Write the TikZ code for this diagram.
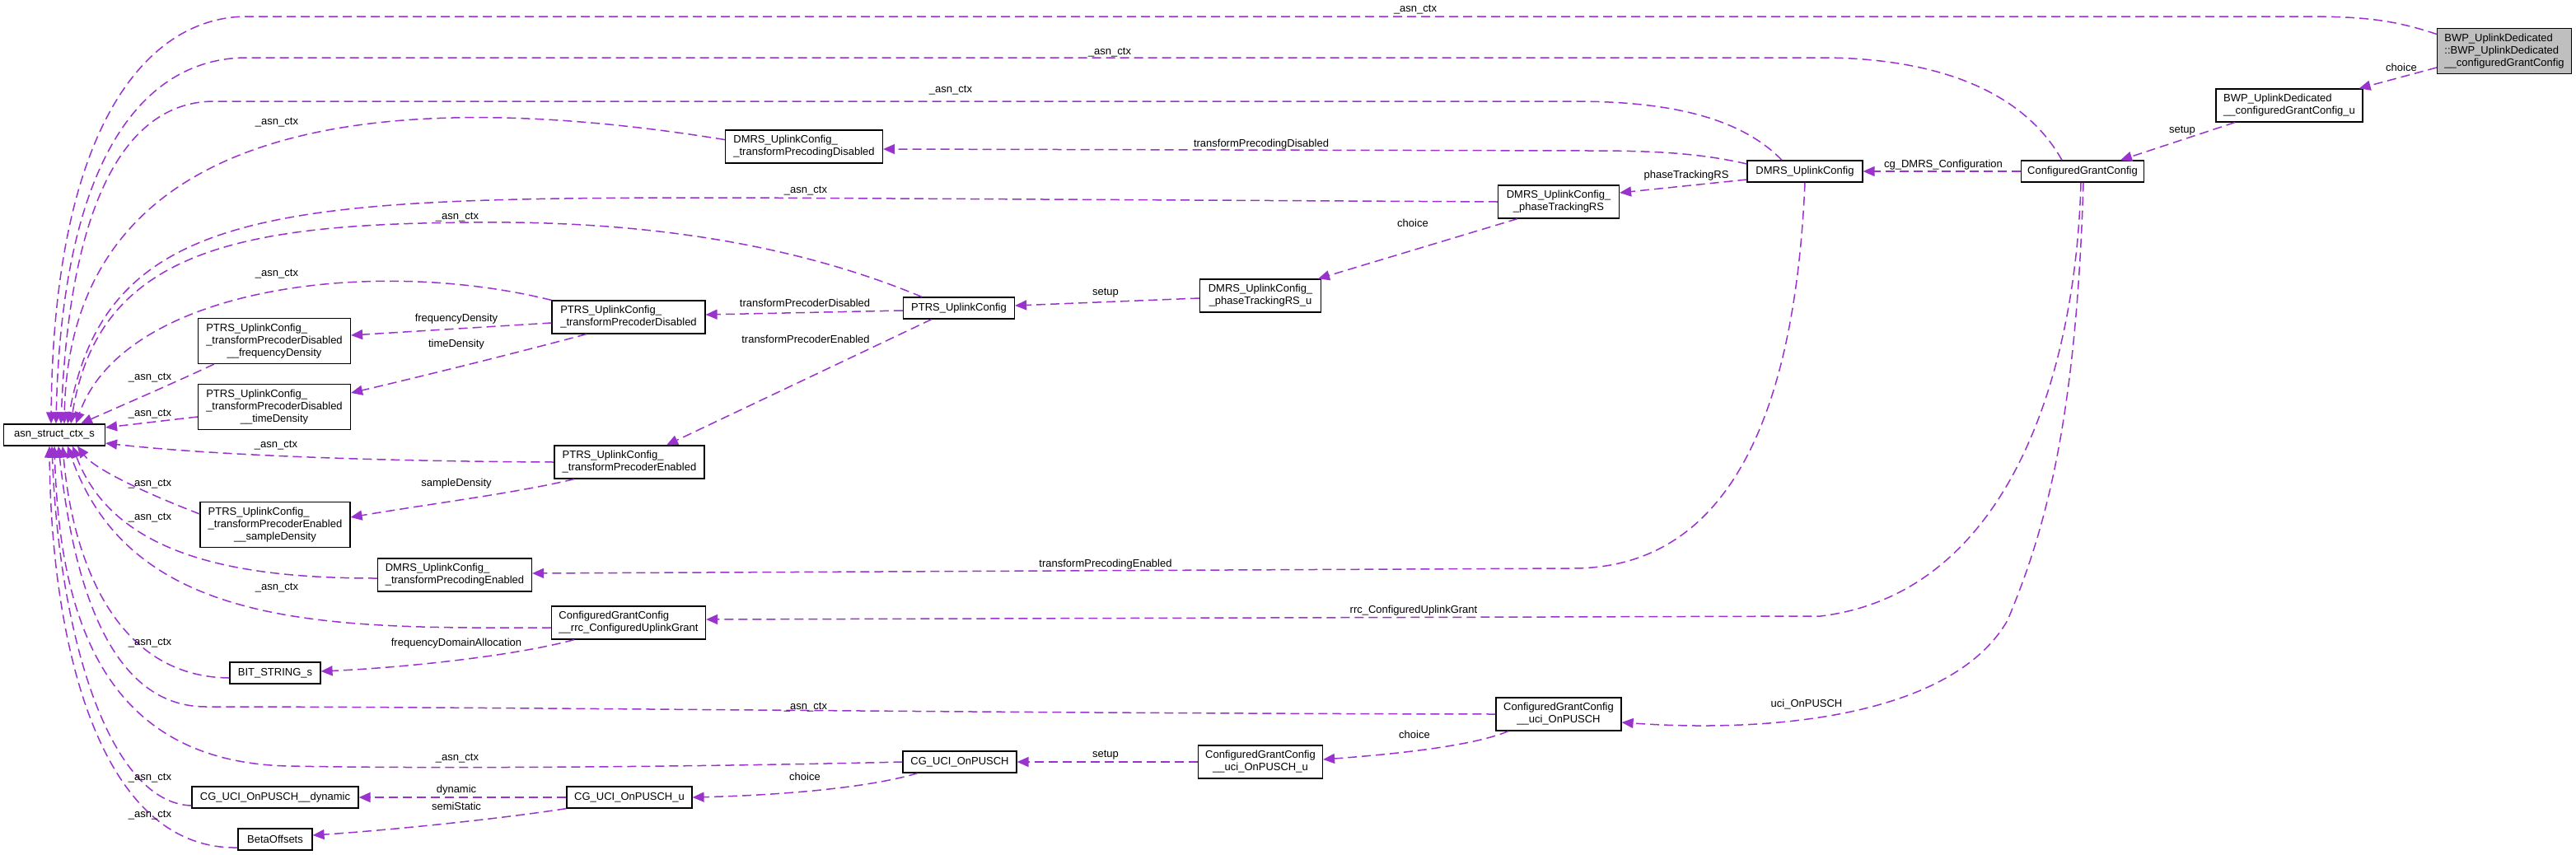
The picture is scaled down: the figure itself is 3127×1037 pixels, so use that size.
\documentclass[tikz,border=0pt]{standalone}
\usepackage{fontspec}
\setmainfont{Liberation Sans}
\usepackage{xcolor}
\usetikzlibrary{arrows.meta}
\definecolor{doxpurple}{RGB}{154,50,205}
\definecolor{doxgray}{RGB}{191,191,191}
% first lines left, last line centred
\newcommand{\boxtext}[2]{\begin{tabular}{@{}l@{}}#1\\\multicolumn{1}{@{}c@{}}{#2}\end{tabular}}

\begin{document}
\begin{tikzpicture}[x=1pt, y=-1pt,
    cls/.style={draw, line width=1.2pt, fill=white, inner xsep=7pt, inner ysep=5pt, minimum height=26pt, font=\fontsize{13}{15}\selectfont},
    lbl/.style={inner sep=0pt, font=\fontsize{13}{15}\selectfont},
    use/.style={draw=doxpurple, line width=1.5pt, dash pattern=on 11pt off 6pt, -{Triangle[length=14pt,width=12pt]}}]
  \useasboundingbox (0,0) rectangle (3127,1037);
  \fill[white] (0,0) rectangle (3127,1037);

  % classes
  \node[cls, fill=doxgray, minimum width=163pt] (bwpCG) at (3040,62) {\boxtext{BWP\_UplinkDedicated\\::BWP\_UplinkDedicated}{\_\_configuredGrantConfig}};
  \node[cls, minimum width=178pt] (bwpCGu) at (2779,128) {\boxtext{BWP\_UplinkDedicated}{\_\_configuredGrantConfig\_u}};
  \node[cls, minimum width=149pt] (cgc) at (2528,208) {ConfiguredGrantConfig};
  \node[cls, minimum width=140pt] (dmrs) at (2191,208) {DMRS\_UplinkConfig};
  \node[cls, minimum width=147pt] (dmrsPT) at (1892,245) {\boxtext{DMRS\_UplinkConfig\_}{\_phaseTrackingRS}};
  \node[cls, minimum width=147pt] (dmrsPTu) at (1530,359) {\boxtext{DMRS\_UplinkConfig\_}{\_phaseTrackingRS\_u}};
  \node[cls, minimum width=191pt] (dmrsTPD) at (976,178) {\boxtext{DMRS\_UplinkConfig\_}{\_transformPrecodingDisabled}};
  \node[cls, minimum width=135pt] (ptrs) at (1164,374) {PTRS\_UplinkConfig};
  \node[cls, minimum width=186pt] (ptrsTPD) at (763,385) {\boxtext{PTRS\_UplinkConfig\_}{\_transformPrecoderDisabled}};
  \node[cls, minimum width=185pt] (ptrsFreq) at (333,414) {\boxtext{PTRS\_UplinkConfig\_\\\_transformPrecoderDisabled}{\_\_frequencyDensity}};
  \node[cls, minimum width=185pt] (ptrsTime) at (333,494) {\boxtext{PTRS\_UplinkConfig\_\\\_transformPrecoderDisabled}{\_\_timeDensity}};
  \node[cls, minimum width=123pt] (asn) at (66,528) {asn\_struct\_ctx\_s};
  \node[cls, minimum width=182pt] (ptrsTPE) at (764,561) {\boxtext{PTRS\_UplinkConfig\_}{\_transformPrecoderEnabled}};
  \node[cls, minimum width=182pt] (ptrsSample) at (334,637) {\boxtext{PTRS\_UplinkConfig\_\\\_transformPrecoderEnabled}{\_\_sampleDensity}};
  \node[cls, minimum width=187pt] (dmrsTPE) at (552,698) {\boxtext{DMRS\_UplinkConfig\_}{\_transformPrecodingEnabled}};
  \node[cls, minimum width=187pt] (rrcGrant) at (763,756) {\boxtext{ConfiguredGrantConfig}{\_\_rrc\_ConfiguredUplinkGrant}};
  \node[cls, minimum width=110pt] (bitStr) at (334,817) {BIT\_STRING\_s};
  \node[cls, minimum width=152pt] (uci) at (1892,867) {\boxtext{ConfiguredGrantConfig}{\_\_uci\_OnPUSCH}};
  \node[cls, minimum width=151pt] (uciU) at (1530,925) {\boxtext{ConfiguredGrantConfig}{\_\_uci\_OnPUSCH\_u}};
  \node[cls, minimum width=138pt] (cgUci) at (1165,925) {CG\_UCI\_OnPUSCH};
  \node[cls, minimum width=152pt] (cgUciU) at (764,968) {CG\_UCI\_OnPUSCH\_u};
  \node[cls, minimum width=202pt] (cgDyn) at (334,968) {CG\_UCI\_OnPUSCH\_\_dynamic};
  \node[cls, minimum width=90pt] (beta) at (334,1019) {BetaOffsets};

  % _asn_ctx links, coming in from above
  \draw[use] (bwpCG.166) .. controls (2900,22) and (2860,20) .. (2790,20) -- (300,20) .. controls (180,20) and (65,150) .. ([xshift=-4pt]asn.north);
  \draw[use] ([xshift=-25pt]cgc.north) .. controls (2450,100) and (2330,70) .. (2210,70) -- (300,70) .. controls (175,70) and (75,190) .. ([xshift=2pt]asn.north);
  \draw[use] ([xshift=-28pt]dmrs.north) .. controls (2110,140) and (2020,123) .. (1909,123) -- (260,123) .. controls (160,123) and (85,230) .. ([xshift=8pt]asn.north);
  \draw[use] (dmrsTPD.175) .. controls (450,100) and (85,150) .. ([xshift=12pt]asn.north);
  \draw[use] (dmrsPT.west) -- (900,240) .. controls (350,240) and (130,245) .. ([xshift=16pt]asn.north);
  \draw[use] ([xshift=-45pt]ptrs.north) .. controls (950,290) and (760,268) .. (574,270) .. controls (300,272) and (120,300) .. ([xshift=20pt]asn.north);
  \draw[use] (ptrsTPD.north west) .. controls (450,310) and (150,350) .. ([xshift=26pt]asn.north);
  \draw[use] ([xshift=20pt]ptrsFreq.south west) .. controls (200,470) and (130,500) .. ([xshift=32pt]asn.north);
  \draw[use] ([yshift=-12pt]ptrsTime.west) -- ([yshift=9pt]asn.east);
  \draw[use] (ptrsTPE.west) .. controls (450,560) and (250,552) .. ([yshift=-10pt]asn.east);
  % _asn_ctx links, coming in from below
  \draw[use] ([yshift=13pt]ptrsSample.west) .. controls (180,600) and (115,570) .. ([xshift=28pt]asn.south);
  \draw[use] ([yshift=-4pt]dmrsTPE.west) .. controls (300,702) and (140,680) .. ([xshift=22pt]asn.south);
  \draw[use] ([yshift=-6pt]rrcGrant.west) .. controls (400,763) and (160,765) .. ([xshift=16pt]asn.south);
  \draw[use] ([yshift=-6pt]bitStr.west) .. controls (140,822) and (88,680) .. ([xshift=10pt]asn.south);
  \draw[use] (uci.west) .. controls (1200,866) and (600,858) .. (250,858) .. controls (130,858) and (88,700) .. ([xshift=5pt]asn.south);
  \draw[use] (cgUci.west) .. controls (800,932) and (500,933) .. (350,930) .. controls (120,925) and (72,740) .. (asn.south);
  \draw[use] ([yshift=-10pt]cgDyn.west) .. controls (135,975) and (72,780) .. ([xshift=-3pt]asn.south);
  \draw[use] ([yshift=-10pt]beta.west) .. controls (120,1032) and (62,780) .. ([xshift=-6pt]asn.south);

  % member links
  \draw[use] ([yshift=-20pt]bwpCG.west) -- ([xshift=-5pt]bwpCGu.north east);
  \draw[use] ([xshift=-66pt]bwpCGu.south) -- ([xshift=46pt]cgc.north);
  \draw[use] (cgc.west) -- (dmrs.east);
  \draw[use] ([xshift=-2pt]cgc.south) .. controls (2520,450) and (2440,720) .. (2210,748) -- ([yshift=4pt]rrcGrant.east);
  \draw[use] ([xshift=1pt]cgc.south) .. controls (2520,520) and (2480,650) .. (2437,753) .. controls (2370,870) and (2150,890) .. ([yshift=-10pt]uci.east);
  \draw[use] ([yshift=9pt]dmrs.west) .. controls (2060,185) and (2000,183) .. (1930,183) -- ([yshift=-3pt]dmrsTPD.east);
  \draw[use] ([yshift=-10pt]dmrs.west) -- ([yshift=11pt]dmrsPT.east);
  \draw[use] (dmrs.south) .. controls (2180,480) and (2110,690) .. (1909,690) -- ([yshift=2pt]dmrsTPE.east);
  \draw[use] ([xshift=-50pt]dmrsPT.south) -- ([xshift=70pt]dmrsPTu.north);
  \draw[use] ([yshift=-3pt]dmrsPTu.west) -- ([yshift=3pt]ptrs.east);
  \draw[use] ([yshift=-3pt]ptrs.west) -- ([yshift=3pt]ptrsTPD.east);
  \draw[use] ([xshift=-33pt]ptrs.south) -- ([xshift=45pt]ptrsTPE.north);
  \draw[use] ([yshift=-7pt]ptrsTPD.west) -- ([yshift=7pt]ptrsFreq.east);
  \draw[use] ([xshift=-51pt]ptrsTPD.south) .. controls (640,425) and (520,455) .. ([yshift=17pt]ptrsTime.east);
  \draw[use] ([xshift=-67pt]ptrsTPE.south) .. controls (630,598) and (520,612) .. ([yshift=9pt]ptrsSample.east);
  \draw[use] ([xshift=-66pt]rrcGrant.south) .. controls (630,795) and (500,810) .. ([yshift=2pt]bitStr.east);
  \draw[use] ([xshift=-61pt]uci.south) .. controls (1790,905) and (1700,915) .. ([yshift=3pt]uciU.east);
  \draw[use] (uciU.west) -- (cgUci.east);
  \draw[use] ([xshift=-51pt]cgUci.south) .. controls (1060,955) and (960,965) .. (cgUciU.east);
  \draw[use] (cgUciU.west) -- (cgDyn.east);
  \draw[use] (cgUciU.south west) .. controls (600,995) and (470,1008) .. ([yshift=5pt]beta.east);

  % labels
  \node[lbl] (ctx1) at (1718,12) {\_asn\_ctx};
  \node[lbl] (ctx2) at (1347,64) {\_asn\_ctx};
  \node[lbl] (ctx3) at (1154,110) {\_asn\_ctx};
  \node[lbl] (ctx4) at (336,149) {\_asn\_ctx};
  \node[lbl] (ctx5) at (978,232) {\_asn\_ctx};
  \node[lbl] (ctx6) at (555,264) {\_asn\_ctx};
  \node[lbl] (ctx7) at (336,333) {\_asn\_ctx};
  \node[lbl] (ctx8) at (182,459) {\_asn\_ctx};
  \node[lbl] (ctx9) at (182,503) {\_asn\_ctx};
  \node[lbl] (ctx10) at (335,541) {\_asn\_ctx};
  \node[lbl] (ctx11) at (182,588) {\_asn\_ctx};
  \node[lbl] (ctx12) at (182,629) {\_asn\_ctx};
  \node[lbl] (ctx13) at (336,714) {\_asn\_ctx};
  \node[lbl] (ctx14) at (182,781) {\_asn\_ctx};
  \node[lbl] (ctx15) at (978,859) {\_asn\_ctx};
  \node[lbl] (ctx16) at (555,921) {\_asn\_ctx};
  \node[lbl] (ctx17) at (182,945) {\_asn\_ctx};
  \node[lbl] (ctx18) at (182,990) {\_asn\_ctx};
  \node[lbl] (lChoiceA) at (2915,82) {choice};
  \node[lbl] (lSetupA) at (2649,159) {setup};
  \node[lbl] (lCgDmrs) at (2359,200) {cg\_DMRS\_Configuration};
  \node[lbl] (lRrc) at (1716,741) {rrc\_ConfiguredUplinkGrant};
  \node[lbl] (lUci) at (2193,855) {uci\_OnPUSCH};
  \node[lbl] (lTPD) at (1531,175) {transformPrecodingDisabled};
  \node[lbl] (lPT) at (2047,213) {phaseTrackingRS};
  \node[lbl] (lTPE) at (1342,685) {transformPrecodingEnabled};
  \node[lbl] (lChoiceB) at (1715,271) {choice};
  \node[lbl] (lSetupB) at (1342,356) {setup};
  \node[lbl] (lPrecDis) at (977,368) {transformPrecoderDisabled};
  \node[lbl] (lPrecEn) at (978,412) {transformPrecoderEnabled};
  \node[lbl] (lFreq) at (554,387) {frequencyDensity};
  \node[lbl] (lTime) at (554,418) {timeDensity};
  \node[lbl] (lSample) at (554,587) {sampleDensity};
  \node[lbl] (lFda) at (554,781) {frequencyDomainAllocation};
  \node[lbl] (lChoiceC) at (1717,892) {choice};
  \node[lbl] (lSetupC) at (1342,917) {setup};
  \node[lbl] (lChoiceD) at (977,943) {choice};
  \node[lbl] (lDyn) at (554,959) {dynamic};
  \node[lbl] (lSemi) at (554,979) {semiStatic};
\end{tikzpicture}
\end{document}
